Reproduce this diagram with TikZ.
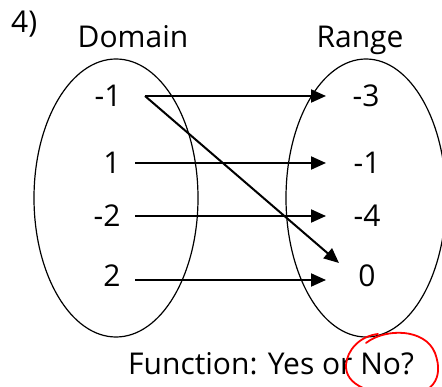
\documentclass[tikz,border=0pt]{standalone}
\usepackage{fontspec}
\setmainfont{Open Sans}
\usetikzlibrary{arrows.meta}
\begin{document}
\begin{tikzpicture}[x=1pt,y=-1pt,
  lbl/.style={inner sep=0pt,anchor=center,font=\fontsize{30}{34}\selectfont},
  setring/.style={draw=black,line width=1.2pt},
  maparrow/.style={draw=black,line width=2pt,-{Triangle[length=15pt,width=13pt]}}]
  \useasboundingbox (0,0) rectangle (442,387);
  % the two sets
  \draw[setring] (116,198) ellipse [x radius=82, y radius=139];
  \draw[setring] (366,198) ellipse [x radius=80, y radius=139];
  % headings
  \node[lbl,anchor=base west] (num) at (11,33) {4)};
  \node[lbl,anchor=base] (dom) at (133,48) {Domain};
  \node[lbl,anchor=base] (ran) at (360,48) {Range};
  % domain elements
  \node[lbl] (d1) at (108,96) {-1};
  \node[lbl] (d2) at (112,163) {1};
  \node[lbl] (d3) at (107,216) {-2};
  \node[lbl] (d4) at (112,276) {2};
  % range elements
  \node[lbl] (r1) at (366,96) {-3};
  \node[lbl] (r2) at (367,163) {-1};
  \node[lbl] (r3) at (367,216) {-4};
  \node[lbl] (r4) at (367,276) {0};
  % arrow anchors
  \coordinate (s1) at (145,96);
  \coordinate (s2) at (135,163);
  \coordinate (s3) at (135,216);
  \coordinate (s4) at (135,280);
  \coordinate (t1) at (326,96);
  \coordinate (t2) at (326,163);
  \coordinate (t3) at (326,216);
  \coordinate (t4) at (326,280);
  \coordinate (t5) at (339,263);
  \draw[maparrow] (s1) -- (t1);
  \draw[maparrow] (s2) -- (t2);
  \draw[maparrow] (s3) -- (t3);
  \draw[maparrow] (s4) -- (t4);
  \draw[maparrow] (s1) -- (t5);
  % question
  \node[inner sep=0pt,anchor=base west,font=\fontsize{30}{34}\selectfont] (q) at (128,375) {Function: Yes or No?};
  % hand-drawn circle
  \draw[red,line width=1.8pt,line cap=round]
    (366,343) .. controls (385,328) and (425,328) .. (435,353)
    .. controls (445,380) and (430,395) .. (405,395)
    .. controls (370,395) and (345,385) .. (346,365)
    .. controls (347,350) and (360,336) .. (378,334);
\end{tikzpicture}
\end{document}
